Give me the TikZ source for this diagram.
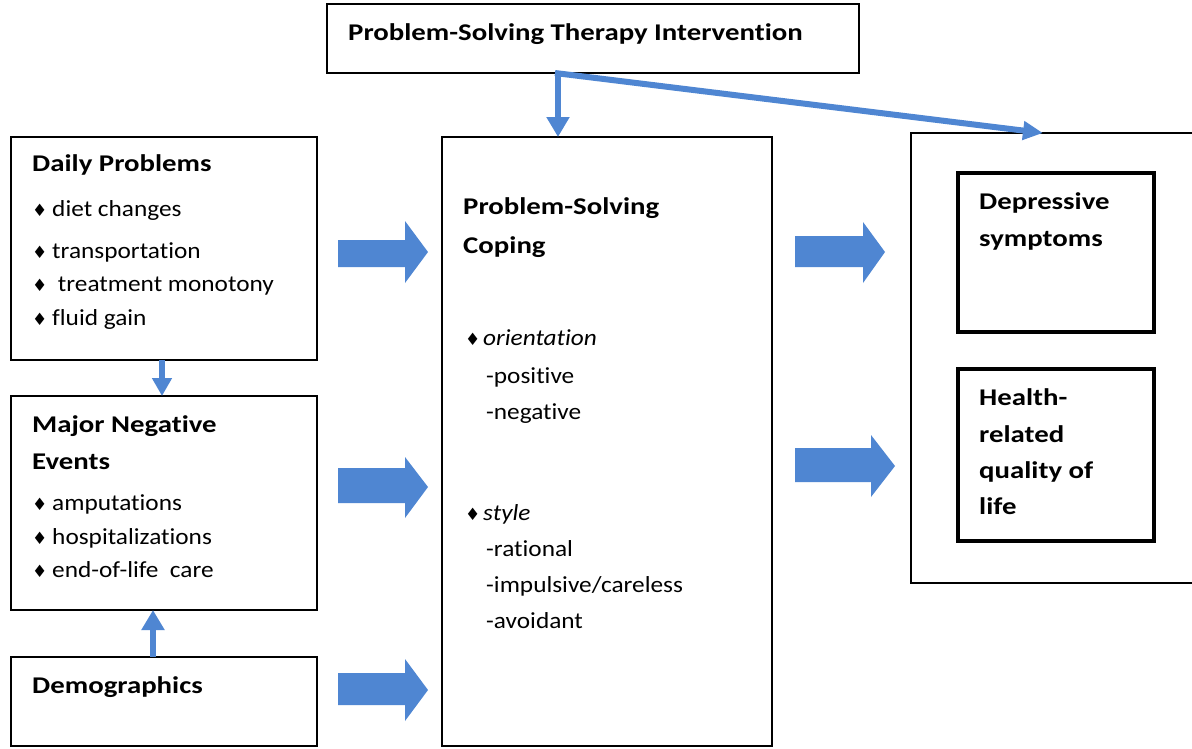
\documentclass[tikz,border=0pt]{standalone}
\usepackage{fontspec}
\setmainfont{Carlito}[RawFeature={-liga}]
\newfontfamily\symfont{DejaVu Sans}
\usetikzlibrary{arrows.meta}
\definecolor{arrowblue}{RGB}{79,134,210}
\tikzset{
  box/.style={draw=black, line width=2.6pt, fill=none, anchor=north west, inner sep=0pt, outer sep=0pt},
  innerbox/.style={draw=black, line width=3.4pt, fill=none, anchor=north west, inner sep=0pt, outer sep=0pt},
  title/.style={anchor=base west, inner sep=0pt, font=\fontsize{24}{28}\selectfont\bfseries, xscale=1.2},
  item/.style={anchor=base west, inner sep=0pt, font=\fontsize{23}{28}\selectfont, xscale=1.1},
  bullet/.style={anchor=base west, inner sep=0pt, font=\fontsize{17}{20}\selectfont\symfont},
  blockarrow/.style={fill=arrowblue, draw=none},
  thinarrow/.style={draw=arrowblue, line width=6.5pt, -{Triangle[width=22pt,length=20pt]}},
}
\begin{document}
\begin{tikzpicture}[x=1pt,y=-1pt]
\useasboundingbox (0,0) rectangle (1192,748);
\clip (0,0) rectangle (1192,748);
\fill[white] (0,0) rectangle (1192,748);

% boxes
\node[box, minimum width=532pt, minimum height=69pt] (pst) at (327,4) {};
\node[box, minimum width=306pt, minimum height=223pt] (daily) at (11,137) {};
\node[box, minimum width=306pt, minimum height=214pt] (major) at (11,396) {};
\node[box, minimum width=306pt, minimum height=89pt] (demo) at (11,657) {};
\node[box, minimum width=330pt, minimum height=609pt] (psc) at (442,137) {};
\node[box, minimum width=300pt, minimum height=450pt] (out) at (911,133) {};
\node[innerbox, minimum width=196pt, minimum height=159pt] (dep) at (958,173) {};
\node[innerbox, minimum width=196pt, minimum height=172pt] (hrq) at (958,369) {};

% top text
\node[title] (tPST) at (348,40) {Problem-Solving Therapy Intervention};

% daily problems
\node[title] (tDaily) at (32,171) {Daily Problems};
\node[bullet] (b1) at (32,216) {♦};
\node[item] (i1) at (52,216) {diet changes};
\node[bullet] (b2) at (32,258) {♦};
\node[item] (i2) at (52,258) {transportation};
\node[bullet] (b3) at (32,291) {♦};
\node[item] (i3) at (52,291) {\ treatment monotony};
\node[bullet] (b4) at (32,325) {♦};
\node[item] (i4) at (52,325) {fluid gain};

% major negative events
\node[title] (tMaj1) at (32,432) {Major Negative};
\node[title] (tMaj2) at (32,469) {Events};
\node[bullet] (b5) at (32,510) {♦};
\node[item] (i5) at (52,510) {amputations};
\node[bullet] (b6) at (32,544) {♦};
\node[item] (i6) at (52,544) {hospitalizations};
\node[bullet] (b7) at (32,577) {♦};
\node[item] (i7) at (52,577) {end-of-life\ \ care};

% demographics
\node[title] (tDemo) at (32,693) {Demographics};

% coping
\node[title] (tPSC1) at (463,214) {Problem-Solving};
\node[title] (tPSC2) at (463,253) {Coping};
\node[bullet] (b8) at (465,345) {♦};
\node[item] (i8) at (483,345) {\itshape orientation};
\node[item] (i9) at (486,383) {-positive};
\node[item] (i10) at (486,419) {-negative};
\node[bullet] (b9) at (465,520) {♦};
\node[item] (i11) at (483,520) {\itshape style};
\node[item] (i12) at (486,556) {-rational};
\node[item] (i13) at (486,592) {-impulsive/careless};
\node[item] (i14) at (486,628) {-avoidant};

% outcomes
\node[title] (tDep1) at (979,209) {Depressive};
\node[title] (tDep2) at (979,246) {symptoms};
\node[title] (tH1) at (979,405) {Health-};
\node[title] (tH2) at (979,442) {related};
\node[title] (tH3) at (979,478) {quality of};
\node[title] (tH4) at (979,514) {life};

% block arrows
\fill[blockarrow] (338,240) -- (405,240) -- (405,221) -- (428,252) -- (405,283) -- (405,267) -- (338,267) -- cycle;
\fill[blockarrow] (338,468) -- (405,468) -- (405,457) -- (428,487) -- (405,518) -- (405,503) -- (338,503) -- cycle;
\fill[blockarrow] (338,673) -- (405,673) -- (405,659) -- (428,690) -- (405,721) -- (405,705) -- (338,705) -- cycle;
\fill[blockarrow] (795,236) -- (863,236) -- (863,222) -- (885,252) -- (863,283) -- (863,267) -- (795,267) -- cycle;
\fill[blockarrow] (795,448) -- (871,448) -- (871,435) -- (895,466) -- (871,497) -- (871,482) -- (795,482) -- cycle;

% thin arrows
\coordinate (split) at (558,73);
\coordinate (outtop) at (1043,133);
\draw[thinarrow] (split) -- (split |- psc.north);
\draw[thinarrow, line width=6pt, -{Triangle[width=18pt,length=20pt]}] ([xshift=-3pt]split) -- (outtop);
\draw[thinarrow, line width=6pt, -{Triangle[width=19pt,length=18pt]}] (daily.south -| 162,0) -- (major.north -| 162,0);
\draw[thinarrow] (demo.north -| 153,0) -- (major.south -| 153,0);
\end{tikzpicture}
\end{document}
